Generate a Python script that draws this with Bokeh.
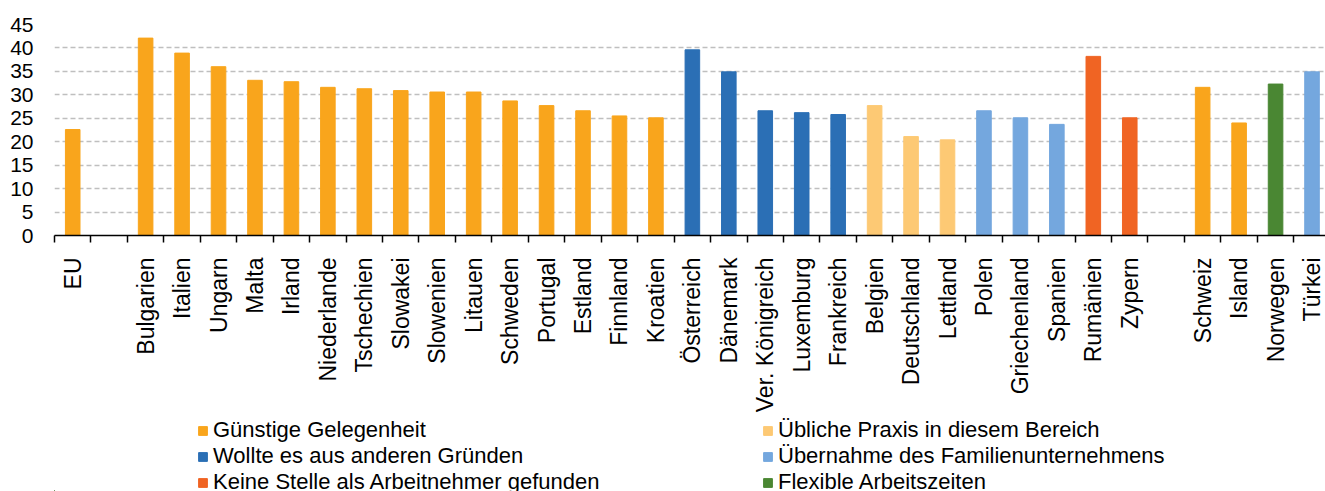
from bokeh.plotting import figure
from bokeh.layouts import column
from bokeh.models import ColumnDataSource, FixedTicker, Legend, LegendItem
from bokeh.embed import file_html
from bokeh.resources import INLINE

countries = ["EU", "", "Bulgarien", "Italien", "Ungarn", "Malta", "Irland", "Niederlande",
             "Tschechien", "Slowakei", "Slowenien", "Litauen", "Schweden", "Portugal",
             "Estland", "Finnland", "Kroatien", "Österreich", "Dänemark", "Ver. Königreich",
             "Luxemburg", "Frankreich", "Belgien", "Deutschland", "Lettland", "Polen",
             "Griechenland", "Spanien", "Rumänien", "Zypern", "", "Schweiz", "Island",
             "Norwegen", "Türkei"]
values = [22.6, None, 42.1, 38.9, 36.0, 33.1, 32.8, 31.6, 31.3, 30.9, 30.6, 30.6, 28.7, 27.7,
          26.6, 25.5, 25.1, 39.6, 34.9, 26.6, 26.2, 25.8, 27.7, 21.1, 20.4, 26.6, 25.1, 23.7,
          38.2, 25.1, None, 31.6, 24.0, 32.3, 34.9]
# index into reason_names
reason_idx = [0, None, 0, 0, 0, 0, 0, 0, 0, 0, 0, 0, 0, 0, 0, 0, 0, 1, 1, 1, 1, 1, 3, 3, 3,
              4, 4, 4, 2, 2, None, 0, 0, 5, 4]
reason_names = ["Günstige Gelegenheit", "Wollte es aus anderen Gründen",
                "Keine Stelle als Arbeitnehmer gefunden", "Übliche Praxis in diesem Bereich",
                "Übernahme des Familienunternehmens", "Flexible Arbeitszeiten"]
reason_colors = ["#F9A51C", "#2B6FB5", "#F06423", "#FDC974", "#74A7DE", "#4A8733"]
y_ticks = [0, 5, 10, 15, 20, 25, 30, 35, 40, 45]

FONT = "Liberation Sans"
n = len(countries)

p = figure(width=1325, height=415, x_range=(-0.5, n - 0.63), y_range=(0, 45),
           output_backend="svg", toolbar_location=None,
           min_border_left=54, min_border_right=0, min_border_top=24, min_border_bottom=179)
p.outline_line_color = None
p.xgrid.grid_line_color = None
p.ygrid.ticker = FixedTicker(ticks=y_ticks)
p.ygrid.grid_line_color = "#BFBFBF"
p.ygrid.grid_line_width = 1.3
p.ygrid.grid_line_dash = "5 3"

for k, name in enumerate(reason_names):
    xs = [i for i in range(n) if reason_idx[i] == k]
    tops = [values[i] for i in xs]
    src = ColumnDataSource(dict(x=xs, top=tops))
    p.vbar(x="x", top="top", width=0.4, bottom=0, source=src,
           fill_color=reason_colors[k], line_color=reason_colors[k], line_width=1)

# x axis
label_pos = [i for i in range(n) if countries[i] != ""]
p.xaxis.ticker = FixedTicker(ticks=label_pos, minor_ticks=[i - 0.5 for i in range(n + 1)])
p.xaxis.major_label_overrides = {i: countries[i] for i in label_pos}
p.xaxis.major_label_orientation = 3.14159265 / 2
p.xaxis.major_tick_out = 0
p.xaxis.major_tick_in = 0
p.xaxis.minor_tick_out = 7
p.xaxis.minor_tick_in = 0
p.xaxis.minor_tick_line_color = "black"
p.xaxis.minor_tick_line_width = 1.5
p.xaxis.axis_line_color = "black"
p.xaxis.axis_line_width = 1.5
p.xaxis.major_label_standoff = 15
p.xaxis.major_label_text_font = FONT
p.xaxis.major_label_text_font_size = "23px"
p.xaxis.major_label_text_color = "black"

# y axis
p.yaxis.ticker = FixedTicker(ticks=y_ticks)
p.yaxis.axis_line_color = None
p.yaxis.major_tick_line_color = None
p.yaxis.minor_tick_line_color = None
p.yaxis.major_tick_out = 0
p.yaxis.major_label_standoff = 21
p.yaxis.major_label_text_font = FONT
p.yaxis.major_label_text_font_size = "21px"
p.yaxis.major_label_text_color = "black"

# legend strip below the chart (its frame is aligned with the chart's frame, left at x=54)
q = figure(width=1325, height=76, x_range=(0, 1271), y_range=(0, 76),
           output_backend="svg", toolbar_location=None,
           min_border_left=0, min_border_right=0, min_border_top=0, min_border_bottom=0)
q.axis.visible = False
q.grid.visible = False
q.outline_line_color = None
leg_renderers = []
for k, name in enumerate(reason_names):
    r = q.vbar(x=[-1000], top=[1], width=1, fill_color=reason_colors[k],
               line_color=reason_colors[k])
    leg_renderers.append(r)


def make_legend(idxs, loc):
    lg = Legend(items=[LegendItem(label=reason_names[k], renderers=[leg_renderers[k]]) for k in idxs],
                location=loc, orientation="vertical")
    lg.glyph_width = 11
    lg.glyph_height = 11
    lg.label_standoff = 5
    lg.label_height = 24
    lg.spacing = -1
    lg.padding = 0
    lg.margin = 0
    lg.label_text_font = FONT
    lg.label_text_font_size = "22px"
    lg.label_text_color = "black"
    lg.background_fill_alpha = 0
    lg.border_line_alpha = 0
    return lg


q.add_layout(make_legend([0, 1, 2], (143, -4)), "center")
q.add_layout(make_legend([3, 4, 5], (708, -4)), "center")

layout = column(p, q, spacing=0)
open("out.html", "w").write(file_html(layout, INLINE))
